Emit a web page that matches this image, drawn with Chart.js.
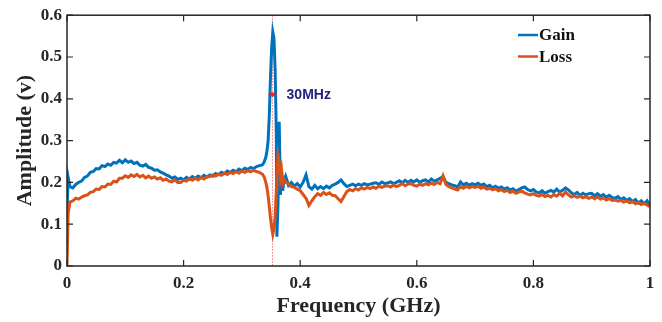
<!DOCTYPE html>
<html lang="en">
<head>
<meta charset="UTF-8">
<title>Amplitude vs Frequency</title>
<script src="https://cdn.jsdelivr.net/npm/chart.js@4.4.1/dist/chart.umd.min.js"></script>
<style>
  html, body { margin: 0; padding: 0; background: #fff; }
  #wrap { width: 662px; height: 322px; }
</style>
</head>
<body>
<div id="wrap"><canvas id="spectrum" width="662" height="322"></canvas></div>
<script>
/************  DATA  ************/
const freq = [
  0, 0.002, 0.005, 0.01, 0.015, 0.02, 0.025, 0.03, 0.035, 0.04,
  0.045, 0.05, 0.055, 0.06, 0.065, 0.07, 0.075, 0.08, 0.085, 0.09,
  0.095, 0.1, 0.105, 0.11, 0.115, 0.12, 0.125, 0.13, 0.135, 0.14,
  0.145, 0.15, 0.155, 0.16, 0.165, 0.17, 0.175, 0.18, 0.185, 0.19,
  0.195, 0.2, 0.205, 0.21, 0.215, 0.22, 0.225, 0.23, 0.235, 0.24,
  0.245, 0.25, 0.255, 0.26, 0.265, 0.27, 0.275, 0.28, 0.285, 0.29,
  0.295, 0.3, 0.305, 0.31, 0.315, 0.32, 0.325, 0.33, 0.335, 0.338,
  0.341, 0.343, 0.345, 0.347, 0.349, 0.351, 0.353, 0.355, 0.357, 0.359,
  0.36, 0.362, 0.364, 0.366, 0.368, 0.37, 0.372, 0.375, 0.38, 0.385,
  0.39, 0.395, 0.4, 0.405, 0.41, 0.415, 0.42, 0.425, 0.43, 0.435,
  0.44, 0.445, 0.45, 0.455, 0.46, 0.465, 0.47, 0.475, 0.48, 0.485,
  0.49, 0.495, 0.5, 0.505, 0.51, 0.515, 0.52, 0.525, 0.53, 0.535,
  0.54, 0.545, 0.55, 0.555, 0.56, 0.565, 0.57, 0.575, 0.58, 0.585,
  0.59, 0.595, 0.6, 0.605, 0.61, 0.615, 0.62, 0.625, 0.63, 0.635,
  0.64, 0.645, 0.65, 0.655, 0.66, 0.665, 0.67, 0.675, 0.68, 0.685,
  0.69, 0.695, 0.7, 0.705, 0.71, 0.715, 0.72, 0.725, 0.73, 0.735,
  0.74, 0.745, 0.75, 0.755, 0.76, 0.765, 0.77, 0.775, 0.78, 0.785,
  0.79, 0.795, 0.8, 0.805, 0.81, 0.815, 0.82, 0.825, 0.83, 0.835,
  0.84, 0.845, 0.85, 0.855, 0.86, 0.865, 0.87, 0.875, 0.88, 0.885,
  0.89, 0.895, 0.9, 0.905, 0.91, 0.915, 0.92, 0.925, 0.93, 0.935,
  0.94, 0.945, 0.95, 0.955, 0.96, 0.965, 0.97, 0.975, 0.98, 0.985,
  0.99, 0.995, 1.0
];

const gain = [
  0.13, 0.212, 0.19, 0.187, 0.195, 0.2, 0.203, 0.212, 0.215, 0.224,
  0.226, 0.233, 0.232, 0.24, 0.238, 0.244, 0.241, 0.248, 0.246, 0.253,
  0.247, 0.254, 0.248, 0.251, 0.245, 0.248, 0.241, 0.239, 0.243, 0.236,
  0.234, 0.229, 0.23, 0.225, 0.222, 0.218, 0.215, 0.21, 0.213, 0.207,
  0.21, 0.206, 0.212, 0.208, 0.214, 0.21, 0.215, 0.211, 0.217, 0.213,
  0.218, 0.215, 0.221, 0.218, 0.224, 0.221, 0.227, 0.224, 0.229, 0.226,
  0.232, 0.228, 0.234, 0.231, 0.236, 0.233, 0.238, 0.24, 0.242, 0.248,
  0.26, 0.275, 0.30, 0.36, 0.45, 0.52, 0.56, 0.545, 0.47, 0.32,
  0.07, 0.15, 0.345, 0.17, 0.225, 0.18, 0.205, 0.215, 0.193, 0.2,
  0.191, 0.197, 0.189, 0.2, 0.218, 0.19, 0.184, 0.193, 0.185, 0.19,
  0.185, 0.191, 0.187, 0.193, 0.196, 0.2, 0.206, 0.197, 0.19, 0.193,
  0.196, 0.192, 0.196, 0.193, 0.197, 0.194, 0.196, 0.198, 0.199, 0.195,
  0.201, 0.197, 0.199, 0.201, 0.197, 0.2, 0.204, 0.199, 0.205, 0.2,
  0.205, 0.201, 0.206, 0.2, 0.204, 0.206, 0.201, 0.208, 0.203, 0.206,
  0.21, 0.214, 0.2, 0.197, 0.194, 0.192, 0.189, 0.201, 0.194, 0.198,
  0.193, 0.197, 0.194, 0.198, 0.193, 0.196, 0.19, 0.193, 0.187, 0.191,
  0.186, 0.189, 0.184, 0.187, 0.182, 0.185, 0.179, 0.183, 0.187, 0.189,
  0.183, 0.18, 0.183, 0.177, 0.175, 0.18, 0.174, 0.178, 0.181, 0.177,
  0.184, 0.177, 0.181, 0.187, 0.182, 0.175, 0.171, 0.176, 0.169, 0.174,
  0.17, 0.173, 0.174, 0.168, 0.173, 0.167, 0.171, 0.165, 0.169, 0.164,
  0.162, 0.166, 0.159, 0.163, 0.157, 0.161, 0.154, 0.159, 0.151, 0.156,
  0.149, 0.156, 0.144
];

const loss = [
  0, 0.125, 0.153, 0.156, 0.162, 0.16, 0.165, 0.168, 0.17, 0.176,
  0.178, 0.184, 0.183, 0.19, 0.189, 0.196, 0.195, 0.203, 0.201, 0.21,
  0.21, 0.216, 0.212, 0.218, 0.214, 0.219, 0.213, 0.217, 0.211, 0.215,
  0.21, 0.213, 0.208, 0.211, 0.205, 0.208, 0.203, 0.201, 0.206, 0.2,
  0.2, 0.205, 0.203, 0.209, 0.205, 0.21, 0.206, 0.212, 0.208, 0.213,
  0.214, 0.218, 0.215, 0.22, 0.217, 0.222, 0.219, 0.224, 0.221, 0.226,
  0.222, 0.227, 0.224, 0.228, 0.225, 0.229, 0.226, 0.224, 0.22, 0.214,
  0.2, 0.187, 0.168, 0.142, 0.115, 0.092, 0.076, 0.09, 0.12, 0.18,
  0.22, 0.265, 0.25, 0.212, 0.23, 0.2, 0.208, 0.2, 0.196, 0.19,
  0.188, 0.184, 0.18, 0.171, 0.162, 0.145, 0.156, 0.166, 0.173, 0.169,
  0.176, 0.171, 0.175, 0.169, 0.168, 0.161, 0.154, 0.166, 0.178, 0.183,
  0.18, 0.185, 0.182, 0.187, 0.184, 0.188, 0.185, 0.189, 0.186, 0.191,
  0.188, 0.191, 0.192, 0.189, 0.194, 0.19, 0.193, 0.197, 0.192, 0.196,
  0.197, 0.193, 0.191, 0.196, 0.193, 0.197, 0.194, 0.198, 0.195, 0.2,
  0.197, 0.216, 0.195, 0.19, 0.187, 0.184, 0.182, 0.19, 0.186, 0.191,
  0.187, 0.19, 0.188, 0.191, 0.186, 0.189, 0.184, 0.186, 0.182, 0.185,
  0.18, 0.183, 0.178, 0.181, 0.176, 0.179, 0.174, 0.177, 0.179, 0.175,
  0.172, 0.17, 0.173, 0.169, 0.167, 0.171, 0.166, 0.169, 0.165, 0.171,
  0.167, 0.174, 0.168, 0.177, 0.17, 0.165, 0.168, 0.164, 0.167, 0.163,
  0.166, 0.162, 0.165, 0.161, 0.165, 0.16, 0.163, 0.158, 0.161, 0.157,
  0.158, 0.155, 0.157, 0.153, 0.156, 0.151, 0.154, 0.149, 0.152, 0.147,
  0.15, 0.146, 0.142
];

const xTicks = [0, 0.2, 0.4, 0.6, 0.8, 1];
const yTicks = [0, 0.1, 0.2, 0.3, 0.4, 0.5, 0.6];

// resonance marker: dotted line, half-height arrow and its label
const peakFreq = 0.352;
const halfAmp = 0.41;
const halfLeft = 0.3455;
const halfRight = 0.3595;
const widthLabel = '30MHz';

const GAIN_COLOR = '#0072BD';
const LOSS_COLOR = '#D95319';
const SERIF = '"Liberation Serif", "Times New Roman", serif';

/************  PLUGIN: MATLAB style box, inner ticks, legend, marker  ************/
const matlabFrame = {
  id: 'matlabFrame',
  beforeDatasetsDraw(chart) {
    const { ctx, chartArea: a, scales: { x } } = chart;
    const px = x.getPixelForValue(peakFreq);
    ctx.save();
    ctx.strokeStyle = '#f07a7a';
    ctx.lineWidth = 1;
    ctx.setLineDash([1.5, 1.5]);
    ctx.beginPath();
    ctx.moveTo(Math.round(px) + 0.5, a.top);
    ctx.lineTo(Math.round(px) + 0.5, a.bottom);
    ctx.stroke();
    ctx.restore();
  },
  afterDatasetsDraw(chart) {
    const { ctx, chartArea: a, scales: { x, y } } = chart;
    ctx.save();

    // box
    ctx.strokeStyle = '#262626';
    ctx.lineWidth = 1.5;
    ctx.strokeRect(a.left, a.top, a.right - a.left, a.bottom - a.top);

    // inner ticks on all four sides
    const tl = 6;
    ctx.lineWidth = 1.2;
    ctx.beginPath();
    xTicks.forEach(v => {
      const p = x.getPixelForValue(v);
      ctx.moveTo(p, a.bottom); ctx.lineTo(p, a.bottom - tl);
      ctx.moveTo(p, a.top); ctx.lineTo(p, a.top + tl);
    });
    yTicks.forEach(v => {
      const p = y.getPixelForValue(v);
      ctx.moveTo(a.left, p); ctx.lineTo(a.left + tl, p);
      ctx.moveTo(a.right, p); ctx.lineTo(a.right - tl, p);
    });
    ctx.stroke();

    // half-height double arrow
    const yh = y.getPixelForValue(halfAmp);
    const xl = x.getPixelForValue(halfLeft);
    const xr = x.getPixelForValue(halfRight);
    ctx.strokeStyle = '#e0242a';
    ctx.fillStyle = '#e0242a';
    ctx.lineWidth = 1.5;
    ctx.beginPath();
    ctx.moveTo(xl, yh); ctx.lineTo(xr, yh);
    ctx.stroke();
    ctx.beginPath();
    ctx.moveTo(xl, yh); ctx.lineTo(xl + 4, yh - 2.5); ctx.lineTo(xl + 4, yh + 2.5); ctx.closePath();
    ctx.moveTo(xr, yh); ctx.lineTo(xr - 4, yh - 2.5); ctx.lineTo(xr - 4, yh + 2.5); ctx.closePath();
    ctx.fill();

    ctx.fillStyle = '#23237a';
    ctx.font = 'bold 14px "Liberation Sans", Arial, sans-serif';
    ctx.textBaseline = 'middle';
    ctx.textAlign = 'left';
    ctx.fillText(widthLabel, xr + 10, yh + 1);

    // legend
    const lx = 518, ly = 35, row = 21.5;
    ctx.font = 'bold 17px ' + SERIF;
    chart.data.datasets.forEach((ds, i) => {
      const yy = ly + i * row;
      ctx.strokeStyle = ds.borderColor;
      ctx.lineWidth = 2.5;
      ctx.beginPath();
      ctx.moveTo(lx, yy); ctx.lineTo(lx + 20, yy);
      ctx.stroke();
      ctx.fillStyle = '#111';
      ctx.fillText(ds.label, lx + 21, yy + 1);
    });
    ctx.restore();
  }
};

/************  CHART  ************/
new Chart(document.getElementById('spectrum'), {
  type: 'line',
  data: {
    datasets: [
      {
        label: 'Gain',
        data: gain.map((v, i) => ({ x: freq[i], y: v })),
        borderColor: GAIN_COLOR,
        borderWidth: 3,
        pointRadius: 0,
        tension: 0,
        order: 1
      },
      {
        label: 'Loss',
        data: loss.map((v, i) => ({ x: freq[i], y: v })),
        borderColor: LOSS_COLOR,
        borderWidth: 3,
        pointRadius: 0,
        tension: 0,
        order: 0
      }
    ]
  },
  options: {
    responsive: false,
    animation: false,
    devicePixelRatio: 1,
    layout: { padding: { left: 12, right: 12, top: 14, bottom: 0 } },
    scales: {
      x: {
        type: 'linear',
        min: 0, max: 1,
        afterBuildTicks: s => { s.ticks = xTicks.map(v => ({ value: v })); },
        afterFit: s => { s.height = 56; },
        grid: { display: false, drawTicks: false },
        border: { display: false },
        ticks: {
          color: '#262626', padding: 7,
          font: { family: SERIF, size: 17, weight: 'bold' },
          callback: v => String(v)
        },
        title: {
          display: true, text: 'Frequency (GHz)', color: '#262626',
          padding: { top: 0, bottom: 2 },
          font: { family: SERIF, size: 22, weight: 'bold' }
        }
      },
      y: {
        min: 0, max: 0.6,
        afterBuildTicks: s => { s.ticks = yTicks.map(v => ({ value: v })); },
        afterFit: s => { s.width = 55; },
        grid: { display: false, drawTicks: false },
        border: { display: false },
        ticks: {
          color: '#262626', padding: 5,
          font: { family: SERIF, size: 17, weight: 'bold' },
          callback: v => String(v)
        },
        title: {
          display: true, text: 'Amplitude (v)', color: '#262626',
          padding: 0,
          font: { family: SERIF, size: 22, weight: 'bold' }
        }
      }
    },
    plugins: { legend: { display: false }, tooltip: { enabled: false } }
  },
  plugins: [matlabFrame]
});
</script>
</body>
</html>
